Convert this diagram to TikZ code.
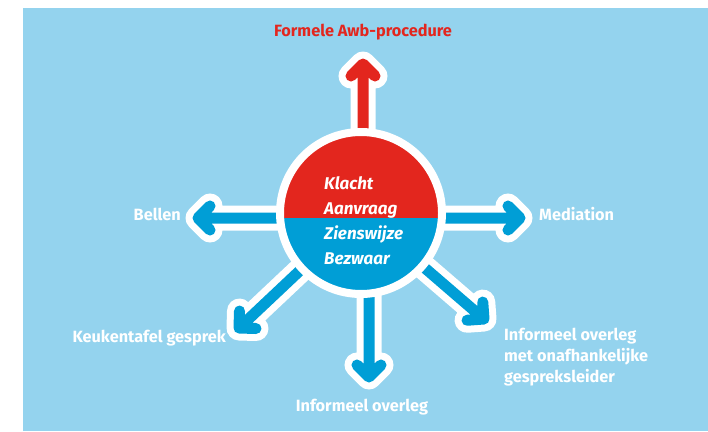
\documentclass[tikz,border=0pt]{standalone}
\usepackage{fontspec}
\setmainfont{Fira Sans}
\usetikzlibrary{calc, positioning}
\definecolor{skyback}{RGB}{148,211,238}
\definecolor{awbred}{RGB}{227,38,30}
\definecolor{talkblue}{RGB}{0,158,214}
\pgfdeclarelayer{back}
\pgfdeclarelayer{spokes}
\pgfsetlayers{back,spokes,main}
\tikzset{
  lbl/.style={text=white, inner sep=0pt, font=\bfseries\fontsize{16.3}{21}\selectfont},
  hubtext/.style={text=white, inner sep=0pt, align=left,
    font=\bfseries\itshape\fontsize{17}{25}\selectfont},
  spokeedge/.style={draw=white, line width=25pt, line cap=round, line join=round},
  spokecore/.style={line width=11pt, line cap=round, line join=round},
  hub/.style={circle, minimum size=162pt, inner sep=0pt, draw=white, line width=8pt,
    path picture={
      \fill[awbred] (path picture bounding box.north west) rectangle ([yshift=-5pt]path picture bounding box.east);
      \fill[talkblue] ([yshift=-5pt]path picture bounding box.west) rectangle (path picture bounding box.south east);
    }},
}
% #1 start, #2 tip, #3 colour
\newcommand{\spoke}[3]{%
  \draw[spokeedge] (#1) -- (#2)
    ($(#2)!17pt!45:(#1)$) -- (#2) -- ($(#2)!17pt!-45:(#1)$);
  \draw[spokecore, draw=#3] (#1) -- (#2)
    ($(#2)!17pt!45:(#1)$) -- (#2) -- ($(#2)!17pt!-45:(#1)$);
}

\begin{document}
\begin{tikzpicture}[x=1pt, y=-1pt]
  \useasboundingbox (0,0) rectangle (708,431);
  \begin{pgfonlayer}{back}
    \fill[skyback] (23,8) rectangle (708,431);
  \end{pgfonlayer}

  % centre disc
  \node[hub] (hub) at (361,213) {};
  \node[hubtext, anchor=west] (cases) at (324,221) {Klacht\\Aanvraag\\Zienswijze\\Bezwaar};

  % arrow tips
  \coordinate (tipU) at (363,64);
  \coordinate (tipL) at (198,218);
  \coordinate (tipR) at (520,218);
  \coordinate (tipD) at (369,377);
  \coordinate (tipDL) at (239,328);
  \coordinate (tipDR) at (484,319);

  \begin{pgfonlayer}{spokes}
    \spoke{hub.center -| tipU}{tipU}{awbred}
    \spoke{hub.center |- tipL}{tipL}{talkblue}
    \spoke{hub.center |- tipR}{tipR}{talkblue}
    \spoke{hub.center -| tipD}{tipD}{talkblue}
    \spoke{hub.center}{tipDL}{talkblue}
    \spoke{hub.center}{tipDR}{talkblue}
  \end{pgfonlayer}

  % labels
  \node[lbl, text=awbred] (formal) at (363,32) {Formele Awb-procedure};
  \node[lbl, anchor=east] (phone) at (181,214) {Bellen};
  \node[lbl, anchor=west] (mediation) at (539,214) {Mediation};
  \node[lbl, anchor=east] (kitchen) at (226,338) {Keukentafel gesprek};
  \node[lbl] (informal) at (362,407) {Informeel overleg};
  \node[lbl, anchor=north west, align=left] (neutral) at (504,328)
    {Informeel overleg\\met onafhankelijke\\gespreksleider};
\end{tikzpicture}
\end{document}
